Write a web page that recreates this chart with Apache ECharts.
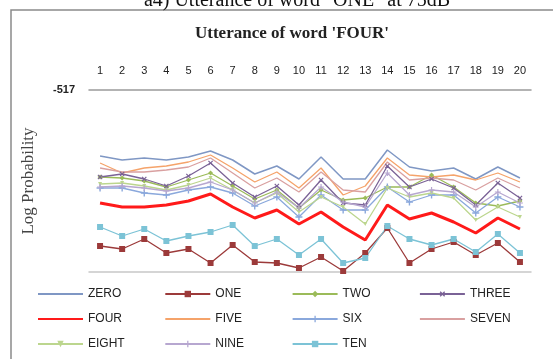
<!DOCTYPE html>
<html><head><meta charset="utf-8">
<script src="https://cdn.jsdelivr.net/npm/echarts@6/dist/echarts.min.js"></script>
<style>html,body{margin:0;padding:0;background:#fff}#c{width:553px;height:359px}</style>
</head><body><div id="c"></div>
<script>
const categories = ['1','2','3','4','5','6','7','8','9','10','11','12','13','14','15','16','17','18','19','20'];
const yTopLabel = -517;
const ZERO  = [-583,-587,-585,-587,-584,-578,-587,-601,-593,-606,-584,-606,-606,-577,-594,-598,-595,-606,-594,-605];
const ONE   = [-673,-676,-666,-680,-676,-690,-672,-689,-690,-695,-684,-698,-680,-655,-690,-676,-669,-682,-670,-689];
const TWO   = [-604,-605,-608,-614,-607,-600,-613,-626,-617,-635,-617,-627,-625,-614,-614,-602,-614,-630,-633,-628];
const THREE = [-604,-601,-606,-613,-603,-590,-610,-624,-613,-632,-607,-630,-632,-593,-614,-606,-615,-632,-610,-625];
const FOUR  = [-630,-634,-634,-632,-628,-621,-634,-645,-637,-651,-639,-654,-667,-632,-646,-640,-649,-660,-645,-656];
const FIVE  = [-590,-600,-595,-593,-589,-582,-595,-609,-599,-615,-595,-622,-613,-585,-602,-604,-602,-607,-600,-609];
const SIX   = [-615,-615,-620,-622,-617,-614,-620,-633,-624,-644,-622,-637,-637,-614,-629,-622,-622,-640,-624,-634];
const SEVEN = [-595,-599,-599,-597,-594,-585,-600,-615,-605,-619,-599,-617,-619,-589,-607,-605,-607,-617,-605,-615];
const EIGHT = [-611,-610,-613,-617,-612,-605,-617,-630,-620,-639,-624,-634,-651,-615,-624,-620,-625,-647,-634,-644];
const NINE  = [-614,-613,-615,-618,-615,-609,-617,-630,-619,-635,-614,-629,-634,-600,-622,-617,-619,-634,-619,-630];
const TEN   = [-654,-663,-656,-668,-663,-659,-652,-673,-666,-682,-666,-690,-685,-653,-666,-672,-666,-679,-661,-680];

const PLUS = 'path://M4,0H6V4H10V6H6V10H4V6H0V4H4Z';
const defs = [
  ['ZERO', ZERO, '#7f97c4', 'none', 0, 1.5, 0],
  ['ONE', ONE, '#9c3a3a', 'rect', 6, 1.3, 0],
  ['TWO', TWO, '#9bbb59', 'diamond', 5, 1.3, 0],
  ['THREE', THREE, '#7a6296', PLUS, 6, 1.3, 45],
  ['FOUR', FOUR, '#ff1a1a', 'none', 0, 3, 0],
  ['FIVE', FIVE, '#f5a36a', 'none', 0, 1.3, 0],
  ['SIX', SIX, '#8aa8dc', PLUS, 7, 1.3, 0],
  ['SEVEN', SEVEN, '#d9a0a0', 'none', 0, 1.3, 0],
  ['EIGHT', EIGHT, '#bcd68e', 'triangle', 4, 1.3, 180],
  ['NINE', NINE, '#b7a7d0', PLUS, 6, 1.3, 0],
  ['TEN', TEN, '#7cc3d6', 'rect', 6, 1.3, 0]
];
const series = defs.map(d => ({
  name: d[0], type: 'line', data: d[1], xAxisIndex: 0,
  symbol: d[3], symbolSize: d[4], symbolRotate: d[6], showSymbol: d[3] !== 'none',
  lineStyle: {color: d[2], width: d[5]}, itemStyle: {color: d[2]},
  z: d[0] === 'FOUR' ? 3 : 2, animation: false
}));

const legends = defs.map((d, i) => {
  const col = i % 4, row = Math.floor(i / 4);
  const item = {name: d[0]};
  if (d[3] === 'none') item.itemStyle = {opacity: 0};
  else item.itemStyle = {borderWidth: 0};
  return {
    data: [item], left: 37 + col * 127.3, top: 288 + row * 25, padding: 0,
    itemWidth: 45, itemHeight: 8, selectedMode: false,
    textStyle: {fontFamily: 'Liberation Sans', fontSize: 12, color: '#222'}
  };
});

const chart = echarts.init(document.getElementById('c'));
chart.setOption({
  animation: false,
  backgroundColor: '#fff',
  title: [
    {text: 'a4) Utterance of word "ONE" at 75dB', left: 292, textAlign: 'center', top: -14,
     textStyle: {fontFamily: 'Liberation Serif', fontSize: 20, fontWeight: 'normal', color: '#111'}},
    {text: "Utterance of word 'FOUR'", left: 287, top: 20, textAlign: 'center',
     textStyle: {fontFamily: 'Liberation Serif', fontSize: 17, fontWeight: 'bold', color: '#222'}}
  ],
  graphic: [{type: 'rect', shape: {x: 11, y: 10, width: 600, height: 400},
             style: {fill: 'none', stroke: '#8a8a8a', lineWidth: 1.5}, silent: true}],
  grid: {left: 89, right: 22, top: 90, bottom: 87},
  legend: legends,
  xAxis: [
    {type: 'category', data: categories, position: 'top', boundaryGap: true,
     axisLine: {lineStyle: {color: '#9a9a9a', width: 1.5}},
     axisTick: {inside: true, length: 3, lineStyle: {color: '#777'}},
     axisLabel: {fontFamily: 'Liberation Sans', fontSize: 11, color: '#222', margin: 14, interval: 0}},
    {type: 'category', data: categories, position: 'bottom', boundaryGap: true,
     axisLine: {lineStyle: {color: '#c8c8c8', width: 1.5}},
     axisTick: {show: false}, axisLabel: {show: false}}
  ],
  yAxis: {
    type: 'value', min: -699, max: yTopLabel,
    name: 'Log Probability', nameLocation: 'middle', nameGap: 52, nameRotate: 90,
    nameTextStyle: {fontFamily: 'Liberation Serif', fontSize: 17, color: '#444'},
    axisLine: {show: false}, axisTick: {show: false}, splitLine: {show: false},
    axisLabel: {showMaxLabel: true, showMinLabel: false, margin: 14,
      fontFamily: 'Liberation Sans', fontSize: 11, fontWeight: 'bold', color: '#222',
      formatter: v => v === yTopLabel ? String(yTopLabel) : ''}
  },
  series: series
});
</script></body></html>
